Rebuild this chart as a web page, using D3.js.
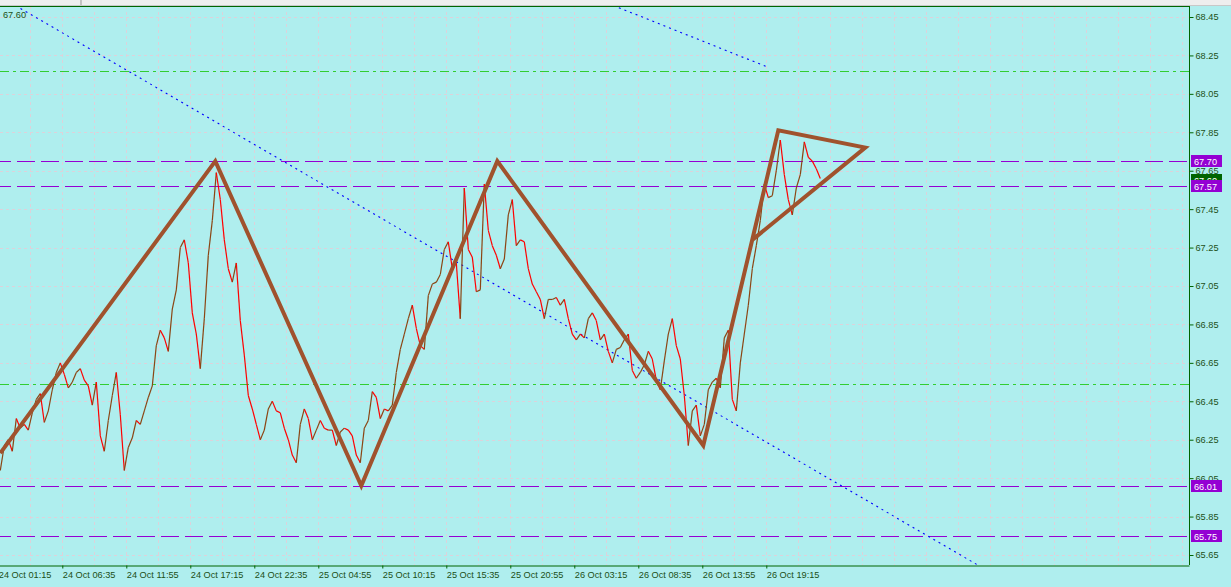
<!DOCTYPE html>
<html><head><meta charset="utf-8">
<script src="https://cdn.jsdelivr.net/npm/d3@7"></script>
<style>html,body{margin:0;padding:0;background:#AFEEEE;overflow:hidden}svg{display:block}</style>
</head><body><svg id="c" width="1231" height="587"></svg>
<script>
// ---------- data ----------
const timeTickLabels = ["24 Oct 01:15","24 Oct 06:35","24 Oct 11:55","24 Oct 17:15","24 Oct 22:35",
  "25 Oct 04:55","25 Oct 10:15","25 Oct 15:35","25 Oct 20:55","26 Oct 03:15","26 Oct 08:35",
  "26 Oct 13:55","26 Oct 19:15"];
const timeTickBars = [0,64,128,192,256,320,384,448,512,576,640,704,768];
const priceTicks = [68.45,68.25,68.05,67.85,67.65,67.45,67.25,67.05,66.85,66.65,66.45,66.25,66.05,65.85,65.65];
// M5 closes sampled every 4 bars, starting at bar 2
const priceStartBar = 2, priceStepBars = 4;
const prices = [
 66.09,66.22,66.25,66.19,66.36,66.31,66.33,66.30,66.39,66.46,66.49,66.34,66.40,66.51,66.60,66.65,
 66.59,66.52,66.55,66.60,66.62,66.56,66.53,66.43,66.55,66.27,66.19,66.35,66.48,66.60,66.38,66.09,
 66.21,66.26,66.35,66.33,66.40,66.47,66.53,66.74,66.82,66.78,66.71,66.93,67.03,67.25,67.29,67.17,
 66.91,66.80,66.62,66.88,67.21,67.39,67.64,67.50,67.29,67.14,67.07,67.17,66.87,66.69,66.48,66.41,
 66.33,66.25,66.30,66.41,66.45,66.40,66.39,66.31,66.25,66.17,66.13,66.33,66.41,66.36,66.25,66.30,
 66.35,66.31,66.30,66.30,66.22,66.29,66.31,66.30,66.27,66.17,66.13,66.31,66.35,66.50,66.47,66.36,
 66.41,66.40,66.43,66.60,66.72,66.80,66.88,66.95,66.83,66.74,66.72,67.00,67.06,67.07,67.11,67.24,
 67.28,67.14,67.17,66.88,67.56,67.24,67.20,67.02,67.03,67.58,67.34,67.26,67.21,67.14,67.19,67.42,
 67.50,67.26,67.29,67.28,67.14,67.06,67.02,66.98,66.88,66.98,66.98,66.99,66.95,66.98,66.88,66.80,
 66.77,66.80,66.78,66.88,66.91,66.87,66.77,66.80,66.71,66.65,66.72,66.73,66.77,66.80,66.61,66.57,
 66.60,66.64,66.71,66.67,66.56,66.51,66.66,66.80,66.88,66.74,66.67,66.48,66.22,66.40,66.43,66.27,
 66.33,66.51,66.55,66.57,66.52,66.78,66.82,66.46,66.40,66.65,66.80,66.95,67.14,67.26,67.39,67.58,
 67.51,67.52,67.65,67.81,67.63,67.50,67.42,67.56,67.63,67.80,67.72,67.70,67.66,67.61];
const zigzagBars   = [2, 217, 363, 499, 705, 780, 867, 754];
const zigzagPrices = [66.18, 67.70, 66.01, 67.70, 66.22, 67.86, 67.77, 67.29];
const trend1Bars = [17, 982],  trend1Prices = [68.51, 65.59];
const trend2Bars = [615, 769], trend2Prices = [68.51, 68.19];
const purpleLevels = [67.70, 67.57, 66.01, 65.75];
const greenLevels = [68.17, 66.54];
const currentPrice = 67.60;
const symbolText = "67.60";

// ---------- layout ----------
const W = 1231, H = 587;
const plotL = 0, plotR = 1189, plotT = 6, plotB = 565;
const FONT = "'Liberation Sans', Arial, sans-serif";
const TXT = "#1c5016";
const svg = d3.select("#c");

const x = d3.scaleLinear().domain([0, 1190.7]).range([-1.7, 1189]);
const y = d3.scaleLinear().domain([65.65, 68.45]).range([555, 17]);

svg.append("rect").attr("width", W).attr("height", H).attr("fill", "#AFEEEE");
// window strip on top
svg.append("rect").attr("x",0).attr("y",0).attr("width",W).attr("height",5).attr("fill","#eeeeee");
svg.append("line").attr("x1",81).attr("x2",81).attr("y1",0).attr("y2",5).attr("stroke","#999");
svg.append("line").attr("x1",0).attr("x2",W).attr("y1",5.5).attr("y2",5.5).attr("stroke","#c8c8c8");

svg.append("defs").append("clipPath").attr("id","plot")
  .append("rect").attr("x",plotL).attr("y",plotT).attr("width",plotR-plotL).attr("height",plotB-plotT);

const g = svg.append("g").attr("clip-path","url(#plot)");

// grid
const gridBars = d3.range(0, 1190, 32);
g.selectAll(".vg").data(gridBars).join("line")
  .attr("x1", d => Math.round(x(d)) + 0.5).attr("x2", d => Math.round(x(d)) + 0.5)
  .attr("y1", plotT).attr("y2", plotB)
  .attr("stroke", "#dcd2da").attr("stroke-dasharray", "3,3");
g.selectAll(".hg").data(priceTicks).join("line")
  .attr("x1", plotL).attr("x2", plotR)
  .attr("y1", d => Math.round(y(d)) + 0.5).attr("y2", d => Math.round(y(d)) + 0.5)
  .attr("stroke", "#dcd2da").attr("stroke-dasharray", "3,3");

// horizontal levels
g.selectAll(".gl").data(greenLevels).join("line")
  .attr("x1", plotL).attr("x2", plotR)
  .attr("y1", d => Math.round(y(d)) + 0.5).attr("y2", d => Math.round(y(d)) + 0.5)
  .attr("stroke", "#32CD32").attr("stroke-dasharray", "9,4,3,4");
g.selectAll(".pl").data(purpleLevels).join("line")
  .attr("x1", plotL).attr("x2", plotR)
  .attr("y1", d => Math.round(y(d)) + 0.5).attr("y2", d => Math.round(y(d)) + 0.5)
  .attr("stroke", "#9400D3").attr("stroke-dasharray", "18,6").attr("stroke-dashoffset", 7);

// trend lines
const tl = (bars, pr) => g.append("line")
  .attr("x1", x(bars[0])).attr("y1", y(pr[0])).attr("x2", x(bars[1])).attr("y2", y(pr[1]))
  .attr("stroke", "#0000FF").attr("stroke-width", 1.1).attr("stroke-dasharray", "2,4");
tl(trend1Bars, trend1Prices);
tl(trend2Bars, trend2Prices);

// price series
const pts = prices.map((p, i) => [x(priceStartBar + i * priceStepBars), y(p)]);
const segs = d3.range(1, pts.length).map(i => ({a: pts[i-1], b: pts[i], up: prices[i] >= prices[i-1]}));
g.selectAll(".seg").data(segs).join("line")
  .attr("x1", d => d.a[0]).attr("y1", d => d.a[1]).attr("x2", d => d.b[0]).attr("y2", d => d.b[1])
  .attr("stroke", d => d.up ? "#8B4513" : "#FF0000").attr("stroke-width", 1.2);

// zigzag
const zz = d3.line().x(d => x(d[0])).y(d => y(d[1]));
g.append("path").datum(zigzagBars.map((b, i) => [b, zigzagPrices[i]]))
  .attr("d", zz).attr("fill", "none").attr("stroke", "#A0522D").attr("stroke-width", 4)
  .attr("stroke-linejoin", "miter");

// borders
svg.append("line").attr("x1",0).attr("x2",plotR).attr("y1",plotT+0.5).attr("y2",plotT+0.5).attr("stroke","#006400");
svg.append("line").attr("x1",plotR+0.5).attr("x2",plotR+0.5).attr("y1",plotT).attr("y2",plotB).attr("stroke","#006400");

// right axis
const ya = svg.append("g").attr("transform", `translate(${plotR + 0.5},0)`)
  .call(d3.axisRight(y).tickValues(priceTicks).tickFormat(d3.format(".2f")).tickSize(4).tickPadding(2));
ya.select(".domain").remove();
ya.selectAll("line").attr("stroke", "#006400");
ya.selectAll("text").attr("fill", TXT).attr("font-family", FONT).attr("font-size", "9.2px");

// bottom axis
const xa = svg.append("g").attr("transform", `translate(0,${plotB + 0.5})`)
  .call(d3.axisBottom(x).tickValues(timeTickBars).tickFormat((d, i) => timeTickLabels[i]).tickSize(3).tickSizeOuter(0));
xa.select(".domain").attr("stroke", "#006400");
xa.selectAll("line").attr("stroke", "#006400");
xa.selectAll("text").attr("fill", TXT).attr("font-family", FONT).attr("font-size", "9.2px")
  .attr("text-anchor", "start").attr("x", 0).attr("y", 12.5).attr("dy", 0);

// price boxes
function box(p, fill) {
  const yy = Math.round(y(p));
  svg.append("rect").attr("x", 1191).attr("y", yy - 6).attr("width", 31).attr("height", 12).attr("fill", fill);
  svg.append("text").attr("x", 1194).attr("y", yy + 3.5).attr("fill", "#ffffff")
    .attr("font-family", FONT).attr("font-size", "9.2px").text(d3.format(".2f")(p));
}
box(currentPrice, "#006400");
purpleLevels.forEach(p => box(p, "#9400D3"));

// symbol text top-left
svg.append("text").attr("x", 3).attr("y", 17.5).attr("fill", TXT)
  .attr("font-family", FONT).attr("font-size", "9.2px").text(symbolText);
</script></body></html>
